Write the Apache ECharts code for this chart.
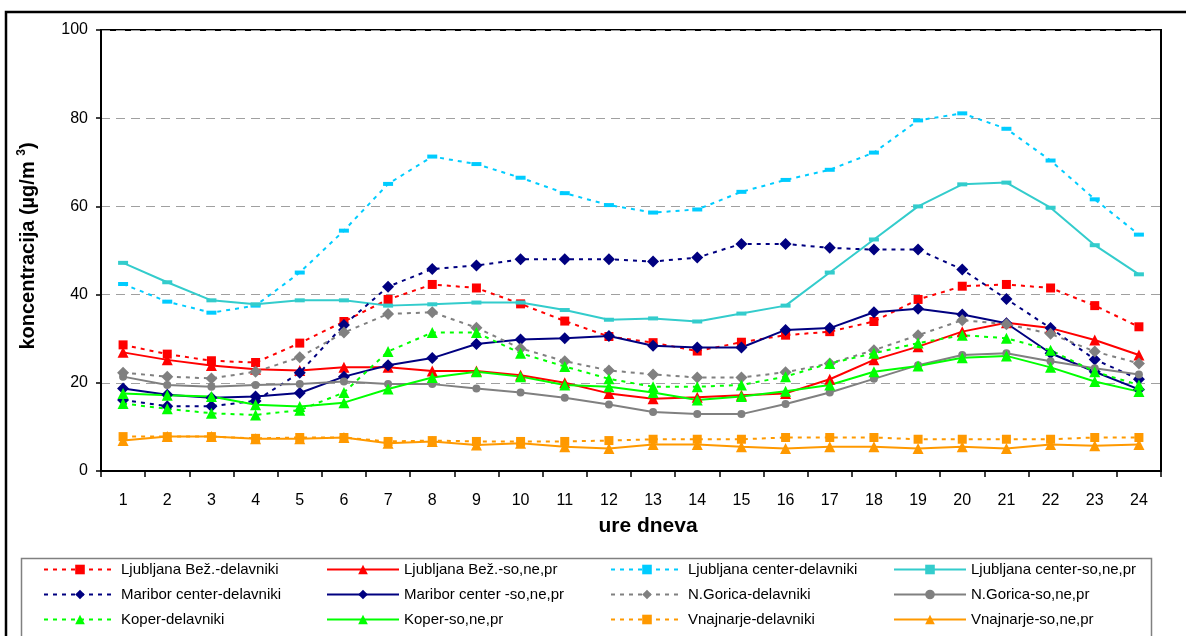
<!DOCTYPE html>
<html><head><meta charset="utf-8">
<script src="https://cdn.jsdelivr.net/npm/echarts@6/dist/echarts.min.js"></script>
<style>html,body{margin:0;padding:0;background:#fff}#c{width:1186px;height:636px}</style>
</head><body><div id="c"></div>
<script>
const hours = ['1','2','3','4','5','6','7','8','9','10','11','12','13','14','15','16','17','18','19','20','21','22','23','24'];
const yTicks = [0, 20, 40, 60, 80, 100];

const ljBezDel = [28.6,26.5,25.0,24.6,29.0,33.9,38.9,42.3,41.5,37.9,34.0,30.5,29.1,27.2,29.2,30.8,31.6,33.9,38.9,41.9,42.3,41.5,37.5,32.7];
const ljBezSo  = [26.9,25.2,23.9,23.1,22.8,23.5,23.5,22.7,22.7,21.7,20.0,17.6,16.4,16.7,17.2,17.6,20.8,25.2,28.2,31.6,33.6,32.4,29.7,26.3];
const ljCenDel = [42.4,38.4,35.9,37.5,45.0,54.5,65.1,71.3,69.6,66.5,63.0,60.3,58.6,59.3,63.3,66.0,68.3,72.2,79.5,81.1,77.6,70.4,61.6,53.6];
const ljCenSo  = [47.2,42.8,38.7,37.8,38.7,38.7,37.5,37.8,38.2,38.2,36.5,34.3,34.6,33.9,35.7,37.5,45.0,52.5,60.0,65.0,65.4,59.7,51.2,44.6];
const mbDel    = [16.1,14.7,14.7,15.9,22.3,33.1,41.8,45.8,46.6,48.0,48.0,48.0,47.5,48.4,51.5,51.5,50.6,50.2,50.2,45.7,39.0,32.4,25.3,20.8];
const mbSo     = [18.7,17.3,16.6,16.9,17.7,21.4,24.0,25.6,28.8,29.8,30.1,30.6,28.4,28.0,28.0,32.0,32.4,36.0,36.8,35.5,33.5,26.7,22.5,18.5];
const ngDel    = [22.3,21.4,21.0,22.5,25.8,31.4,35.6,36.0,32.5,27.8,24.9,22.8,21.9,21.2,21.2,22.4,24.4,27.4,30.8,34.2,33.3,31.1,27.1,24.4];
const ngSo     = [21.4,19.5,19.1,19.5,19.7,20.3,19.7,19.7,18.7,17.8,16.6,15.1,13.4,12.9,12.9,15.2,17.8,20.9,24.0,26.3,26.7,24.9,23.3,21.9];
const kpDel    = [15.3,14.1,13.1,12.7,13.8,17.8,27.1,31.4,31.4,26.7,23.7,20.9,19.1,19.1,19.5,21.4,24.4,26.7,29.0,30.8,30.1,27.4,22.5,19.5];
const kpSo     = [17.6,17.2,16.9,15.0,14.6,15.5,18.6,21.2,22.5,21.4,19.5,19.1,17.8,16.1,16.9,18.1,19.5,22.5,23.8,25.7,26.1,23.5,20.3,18.0];
const vnDel    = [7.8,7.8,7.8,7.4,7.6,7.6,6.7,6.9,6.7,6.7,6.7,6.9,7.2,7.2,7.2,7.6,7.6,7.6,7.2,7.2,7.2,7.2,7.6,7.6];
const vnSo     = [6.9,7.8,7.8,7.3,7.3,7.6,6.3,6.7,5.9,6.3,5.5,5.1,6.0,6.0,5.5,5.1,5.5,5.5,5.1,5.5,5.1,6.0,5.7,6.0];

const names = {
  ljBezDel: 'Ljubljana Bež.-delavniki', ljBezSo: 'Ljubljana Bež.-so,ne,pr',
  ljCenDel: 'Ljubljana center-delavniki', ljCenSo: 'Ljubljana center-so,ne,pr',
  mbDel: 'Maribor center-delavniki', mbSo: 'Maribor center -so,ne,pr',
  ngDel: 'N.Gorica-delavniki', ngSo: 'N.Gorica-so,ne,pr',
  kpDel: 'Koper-delavniki', kpSo: 'Koper-so,ne,pr',
  vnDel: 'Vnajnarje-delavniki', vnSo: 'Vnajnarje-so,ne,pr'
};

const FONT = "'Liberation Sans', Arial, sans-serif";

function mk(name, data, color, dashed, symbol, size) {
  return {
    name: name, type: 'line', data: data,
    symbol: symbol, symbolSize: size,
    lineStyle: { color: color, width: 2, type: dashed ? [4, 5] : 'solid' },
    itemStyle: { color: color, borderWidth: 0 },
    emphasis: { disabled: true },
    animation: false
  };
}

const series = [
  mk(names.ljBezDel, ljBezDel, '#FF0000', true, 'rect', 9),
  mk(names.ljBezSo, ljBezSo, '#FF0000', false, 'triangle', 11),
  mk(names.ljCenDel, ljCenDel, '#00CCFF', true, 'rect', [10, 4]),
  mk(names.ljCenSo, ljCenSo, '#33CCCC', false, 'rect', [10, 4]),
  mk(names.mbDel, mbDel, '#000080', true, 'diamond', 12),
  mk(names.mbSo, mbSo, '#000080', false, 'diamond', 12),
  mk(names.ngDel, ngDel, '#808080', true, 'diamond', 12),
  mk(names.ngSo, ngSo, '#808080', false, 'circle', 8),
  mk(names.kpDel, kpDel, '#00FF00', true, 'triangle', 11),
  mk(names.kpSo, kpSo, '#00FF00', false, 'triangle', 11),
  mk(names.vnDel, vnDel, '#FF9900', true, 'rect', 9),
  mk(names.vnSo, vnSo, '#FF9900', false, 'triangle', 11)
];

function legendCol(left, data) {
  return {
    orient: 'vertical', left: left, top: 562, padding: 0,
    itemWidth: 72, itemHeight: 12, itemGap: 10,
    selectedMode: false,
    textStyle: { fontSize: 15, fontFamily: FONT, color: '#000' },
    data: data
  };
}

const chart = echarts.init(document.getElementById('c'));
chart.setOption({
  backgroundColor: '#fff',
  animation: false,
  grid: { left: 101, right: 25, top: 30, bottom: 165, show: true, borderColor: '#000', borderWidth: 2, backgroundColor: 'transparent' },
  xAxis: {
    type: 'category', data: hours, boundaryGap: true,
    axisLine: { lineStyle: { color: '#000', width: 2 } },
    axisTick: { show: true, length: 6, lineStyle: { color: '#000', width: 1.5 } },
    axisLabel: { fontSize: 16, fontFamily: FONT, color: '#000', margin: 22 },
    splitLine: { show: false }
  },
  yAxis: {
    type: 'value', min: yTicks[0], max: yTicks[yTicks.length - 1], interval: 20,
    axisLine: { show: true, lineStyle: { color: '#000', width: 2 } },
    axisTick: { show: true, length: 5, lineStyle: { color: '#000', width: 1.5 } },
    axisLabel: { fontSize: 16, fontFamily: FONT, color: '#000', margin: 13 },
    splitLine: { show: true, lineStyle: { color: '#A0A0A0', type: [9, 6], width: 1 } }
  },
  legend: [
    legendCol(43, [names.ljBezDel, names.mbDel, names.kpDel]),
    legendCol(326, [names.ljBezSo, names.mbSo, names.kpSo]),
    legendCol(610, [names.ljCenDel, names.ngDel, names.vnDel]),
    legendCol(893, [names.ljCenSo, names.ngSo, names.vnSo])
  ],
  graphic: [
    { type: 'rect', shape: { x: 6, y: 12, width: 1250, height: 700 }, style: { fill: 'none', stroke: '#000', lineWidth: 2.5 }, silent: true, z: -10 },
    { type: 'rect', shape: { x: 21.5, y: 558.5, width: 1130, height: 120 }, style: { fill: 'none', stroke: '#808080', lineWidth: 1.5 }, silent: true, z: -10 },
    { type: 'text', x: 28, y: 246, rotation: Math.PI / 2,
      style: { text: '{a|koncentracija (µg/m }{s|3}{a|)}', align: 'center', verticalAlign: 'middle',
        rich: { a: { fontSize: 20, fontWeight: 'bold', fontFamily: FONT, fill: '#000', lineHeight: 24 },
                s: { fontSize: 12, fontWeight: 'bold', fontFamily: FONT, fill: '#000', verticalAlign: 'top', lineHeight: 24 } } } },
    { type: 'text', x: 648, y: 526,
      style: { text: 'ure dneva', align: 'center', verticalAlign: 'middle', fontSize: 21, fontWeight: 'bold', fontFamily: FONT, fill: '#000' } }
  ],
  series: series
});
</script></body></html>
